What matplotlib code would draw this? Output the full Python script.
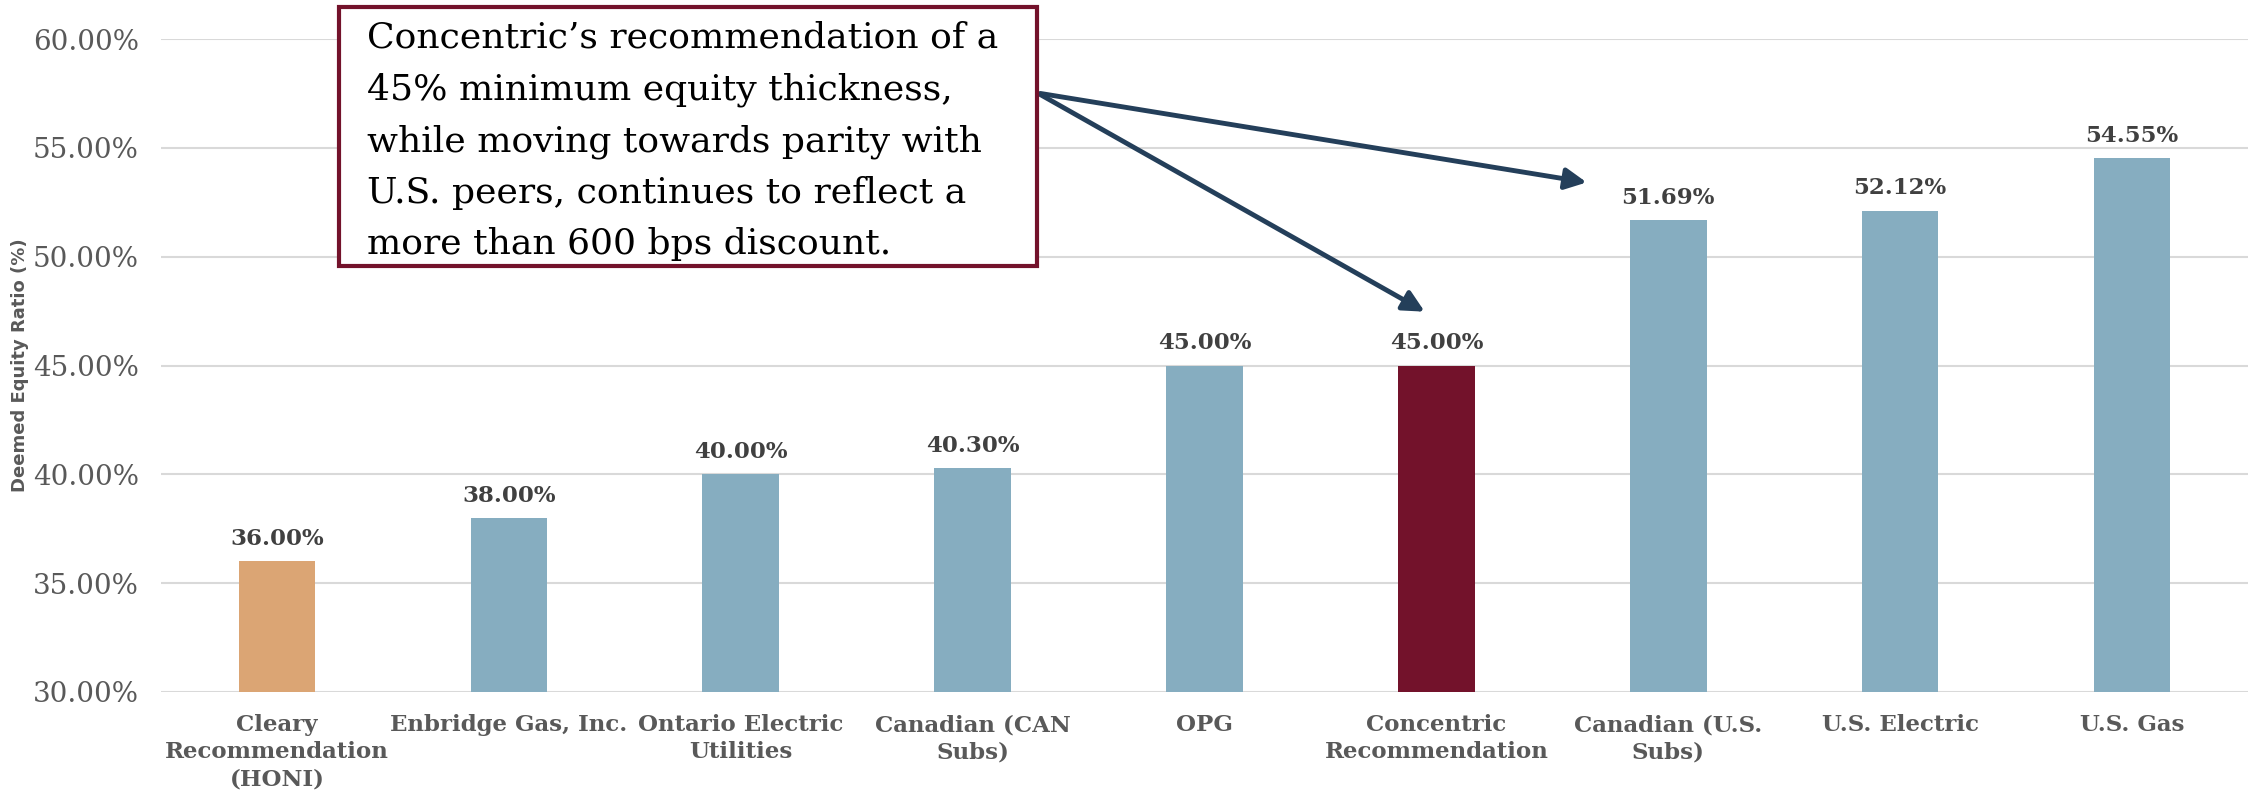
import matplotlib
matplotlib.use('Agg')
import matplotlib.pyplot as plt
from matplotlib.patches import Rectangle
from matplotlib.ticker import FuncFormatter

# 데이터
categories = ['Cleary\nRecommendation\n(HONI)', 'Enbridge Gas, Inc.', 'Ontario Electric\nUtilities',
              'Canadian (CAN\nSubs)', 'OPG', 'Concentric\nRecommendation', 'Canadian (U.S.\nSubs)',
              'U.S. Electric', 'U.S. Gas']
values = [36.00, 38.00, 40.00, 40.30, 45.00, 45.00, 51.69, 52.12, 54.55]
bar_colors = ['#DBA574', '#86ADC0', '#86ADC0', '#86ADC0', '#86ADC0', '#73122B', '#86ADC0', '#86ADC0', '#86ADC0']
y_ticks = [30, 35, 40, 45, 50, 55, 60]
note = ("Concentric\u2019s recommendation of a\n45% minimum equity thickness,\n"
        "while moving towards parity with\nU.S. peers, continues to reflect a\n"
        "more than 600 bps discount.")

plt.rcParams['font.family'] = ['DejaVu Serif']

fig = plt.figure(figsize=(22.55, 8.01), dpi=100)
ax = fig.add_axes([161 / 2255, 1 - 692 / 801, 2087 / 2255, 653 / 801])

x = range(len(values))
ax.bar(x, values, width=0.33, color=bar_colors, zorder=3)

for i, v in enumerate(values):
    ax.annotate(f'{v:.2f}%', (i, v), xytext=(0, 8), textcoords='offset points',
                ha='center', va='bottom', fontsize=16.5, fontweight='bold', color='#404040')

ax.set_xlim(-0.5, len(values) - 0.5)
ax.set_ylim(30, 60)
ax.set_yticks(y_ticks)
ax.yaxis.set_major_formatter(FuncFormatter(lambda v, p: f'{v:.2f}%'))
ax.grid(axis='y', color='#D9D9D9', linewidth=1.5, zorder=0)
ax.set_xticks(list(x))
ax.set_xticklabels(categories, fontsize=16.5, fontweight='bold', color='#595959', linespacing=1.3)
ax.tick_params(axis='x', length=0, pad=16)
ax.tick_params(axis='y', length=0, pad=16, labelsize=20, labelcolor='#595959')
for s in ax.spines.values():
    s.set_visible(False)
ax.set_ylabel('Deemed Equity Ratio (%)', fontsize=13, fontweight='bold', color='#595959',
              family='DejaVu Sans', labelpad=3)

# 설명 박스
fig.patches.append(Rectangle((339 / 2255, 1 - 266 / 801), 698 / 2255, 259 / 801,
                             transform=fig.transFigure, facecolor='white', edgecolor='#73122B',
                             linewidth=3, zorder=5))
fig.text(367 / 2255, 1 - 21 / 801, note, ha='left', va='top', fontsize=26, color='black',
         linespacing=1.64, zorder=6)

# 화살표
for end in [(5.66, 53.39), (4.96, 47.41)]:
    ax.annotate('', xy=end, xytext=(3.28, 57.52), annotation_clip=False,
                arrowprops=dict(arrowstyle='-|>', color='#243F5A', lw=3.5, mutation_scale=32))

plt.savefig('out.png', dpi=100)
